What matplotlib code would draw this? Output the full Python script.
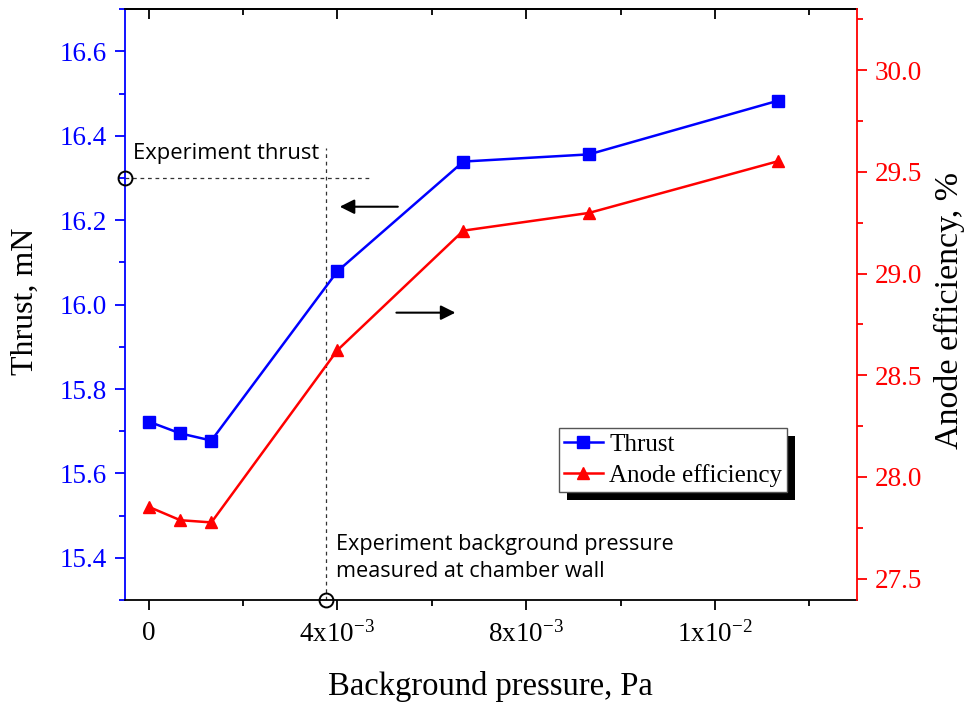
import matplotlib
matplotlib.use("Agg")
import matplotlib.pyplot as plt
from matplotlib.patches import Rectangle
from matplotlib.ticker import MultipleLocator

# data
pressure = [0.0, 0.67e-3, 1.33e-3, 4.0e-3, 6.67e-3, 9.33e-3, 13.33e-3]
thrust = [15.723, 15.695, 15.678, 16.079, 16.339, 16.356, 16.483]
efficiency = [27.853, 27.787, 27.776, 28.623, 29.211, 29.298, 29.552]

x_ticks = [0, 4e-3, 8e-3, 12e-3]
x_tick_labels = ["0", "4x10$^{-3}$", "8x10$^{-3}$", "1x10$^{-2}$"]

exp_thrust = 16.3
exp_pressure = 3.75e-3

serif = ["Liberation Serif", "DejaVu Serif"]
plt.rcParams["font.family"] = serif
plt.rcParams["mathtext.fontset"] = "custom"
plt.rcParams["mathtext.rm"] = "Liberation Serif"
plt.rcParams["mathtext.it"] = "Liberation Serif:italic"

blue = "#0000ff"
red = "#ff0000"

fig = plt.figure(figsize=(9.69, 7.06), dpi=100)
ax = fig.add_axes([0.129, 0.150, 0.755, 0.837])
ax2 = ax.twinx()

l1, = ax.plot(pressure, thrust, color=blue, lw=1.8, marker="s", ms=8, zorder=3)
l2, = ax2.plot(pressure, efficiency, color=red, lw=1.8, marker="^", ms=9, zorder=3)

ax.set_xlim(-0.5e-3, 15e-3)
ax.set_ylim(15.3, 16.7)
ax2.set_ylim(27.394, 30.3)

ax.set_xticks(x_ticks, labels=x_tick_labels)
ax.xaxis.set_minor_locator(MultipleLocator(2e-3))
ax.yaxis.set_major_locator(MultipleLocator(0.2))
ax.yaxis.set_minor_locator(MultipleLocator(0.1))
ax2.yaxis.set_major_locator(MultipleLocator(0.5))
ax2.yaxis.set_minor_locator(MultipleLocator(0.25))

ax.tick_params(axis="x", which="major", direction="out", length=7, width=1.3, labelsize=19.5,
               pad=8, labelfontfamily="Liberation Serif")
ax.tick_params(axis="x", which="minor", direction="out", length=4, width=1.3)
ax.tick_params(axis="y", which="major", colors=blue, direction="out", length=7, width=1.3,
               labelsize=19.5, pad=6, labelfontfamily="Liberation Serif")
ax.tick_params(axis="y", which="minor", colors=blue, direction="out", length=4, width=1.3)
ax2.tick_params(axis="y", which="major", colors=red, direction="out", length=7, width=1.3,
                labelsize=19.5, pad=6, labelfontfamily="Liberation Serif")
ax2.tick_params(axis="y", which="minor", colors=red, direction="out", length=4, width=1.3)

# top ticks point inwards
top = ax.secondary_xaxis("top")
top.set_xticks(x_ticks, labels=[])
top.xaxis.set_minor_locator(MultipleLocator(2e-3))
top.tick_params(axis="x", which="major", direction="in", length=7, width=1.3)
top.tick_params(axis="x", which="minor", direction="in", length=4, width=1.3)
top.spines["top"].set_linewidth(1.3)

ax.spines["left"].set_color(blue)
ax.spines["right"].set_visible(False)
ax2.spines["right"].set_color(red)
ax2.spines["left"].set_visible(False)
ax2.spines["top"].set_visible(False)
ax2.spines["bottom"].set_visible(False)
for s in ["left", "bottom", "top"]:
    ax.spines[s].set_linewidth(1.3)
ax2.spines["right"].set_linewidth(1.3)

ax.set_xlabel("Background pressure, Pa", fontsize=23.5)
ax.xaxis.set_label_coords(0.5, -0.12)
ax.set_ylabel("Thrust, mN", fontsize=23)
ax.yaxis.set_label_coords(-0.116, 0.505)
ax2.set_ylabel("Anode efficiency, %", fontsize=24.5)
ax2.yaxis.set_label_coords(1.106, 0.49)

# experiment markers
dash = (0, (3, 3))
ax.plot([-0.5e-3, 4.74e-3], [exp_thrust, exp_thrust], color="#333333", lw=0.9, ls=dash, zorder=2)
ax.plot([exp_pressure, exp_pressure], [15.3, 16.37], color="#333333", lw=0.9, ls=dash, zorder=2)
ax.plot([-0.5e-3], [exp_thrust], marker="o", ms=10, mfc="none", mec="black", mew=1.4, clip_on=False, zorder=6)
ax.plot([exp_pressure], [15.3], marker="o", ms=10, mfc="none", mec="black", mew=1.4, clip_on=False, zorder=6)

ax.text(-0.32e-3, 16.358, "Experiment thrust", family="Open Sans", fontsize=15.8, va="center", ha="left")
ax.text(3.98e-3, 15.40, "Experiment background pressure\nmeasured at chamber wall",
        family="Open Sans", fontsize=15.6, va="center", ha="left", linespacing=1.4)

arrow = dict(arrowstyle="-|>", color="black", lw=1.5, mutation_scale=22, shrinkA=0, shrinkB=0)
ax.annotate("", xy=(4.05e-3, 16.232), xytext=(5.28e-3, 16.232), arrowprops=arrow)
ax.annotate("", xy=(6.5e-3, 15.981), xytext=(5.25e-3, 15.981), arrowprops=arrow)

leg = ax2.legend([l1, l2], ["Thrust", "Anode efficiency"], loc="upper left",
                 bbox_to_anchor=(0.5933, 0.2905), fontsize=18, frameon=True, fancybox=False,
                 edgecolor="#555555", framealpha=1, handlelength=1.55, borderpad=0.2,
                 labelspacing=0.32, handletextpad=0.25, borderaxespad=0)
leg.get_frame().set_linewidth(1.0)

fig.canvas.draw()
bb = leg.get_window_extent()
shadow = Rectangle((bb.x0 + 8, bb.y0 - 8), bb.width, bb.height, transform=None,
                   facecolor="black", edgecolor="none", zorder=4, clip_on=False)
ax2.add_artist(shadow)

fig.savefig("out.png", dpi=100)
